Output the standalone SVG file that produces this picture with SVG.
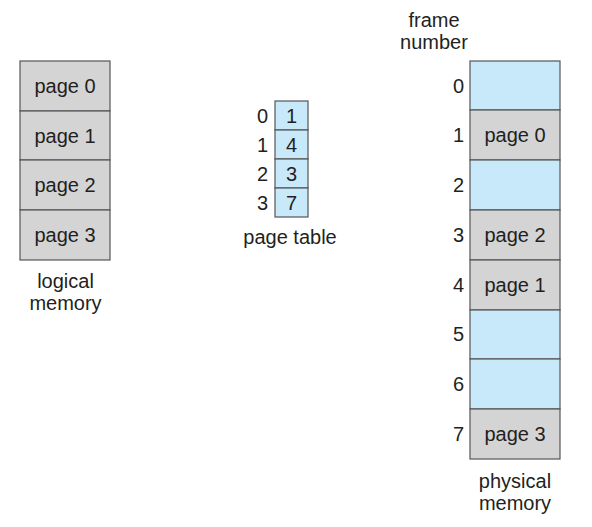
<svg xmlns="http://www.w3.org/2000/svg" width="592" height="527" viewBox="0 0 592 527">
<style>
text{font-family:"Liberation Sans",Arial,sans-serif;font-size:20px;fill:#231f20}
.c{text-anchor:middle}
.r{text-anchor:end}
.g{fill:#d4d4d4;stroke:#555;stroke-width:1.2}
.b{fill:#c8e9fa;stroke:#555;stroke-width:1.2}
</style>
<rect width="592" height="527" fill="#fff"/>
<g id="logical-memory">
<rect class="g" x="20" y="61" width="90" height="50"/>
<rect class="g" x="20" y="111" width="90" height="49"/>
<rect class="g" x="20" y="160" width="90" height="50"/>
<rect class="g" x="20" y="210" width="90" height="50"/>
<text class="c" x="65" y="93">page 0</text>
<text class="c" x="65" y="142.5">page 1</text>
<text class="c" x="65" y="192">page 2</text>
<text class="c" x="65" y="242">page 3</text>
<text class="c" x="65.5" y="288">logical</text>
<text class="c" x="65.5" y="310">memory</text>
</g>
<g id="page-table">
<rect class="b" x="275" y="101" width="33" height="29"/>
<rect class="b" x="275" y="130" width="33" height="29"/>
<rect class="b" x="275" y="159" width="33" height="29"/>
<rect class="b" x="275" y="188" width="33" height="29"/>
<text class="c" x="291.5" y="122.5">1</text>
<text class="c" x="291.5" y="151.5">4</text>
<text class="c" x="291.5" y="180.5">3</text>
<text class="c" x="291.5" y="209.5">7</text>
<text class="r" x="268" y="122.5">0</text>
<text class="r" x="268" y="151.5">1</text>
<text class="r" x="268" y="180.5">2</text>
<text class="r" x="268" y="209.5">3</text>
<text class="c" x="290" y="244">page table</text>
</g>
<g id="physical-memory">
<rect class="b" x="470" y="61" width="90" height="49"/>
<rect class="g" x="470" y="110" width="90" height="50"/>
<rect class="b" x="470" y="160" width="90" height="50"/>
<rect class="g" x="470" y="210" width="90" height="50"/>
<rect class="g" x="470" y="260" width="90" height="50"/>
<rect class="b" x="470" y="310" width="90" height="49"/>
<rect class="b" x="470" y="359" width="90" height="50"/>
<rect class="g" x="470" y="409" width="90" height="50"/>
<text class="c" x="515" y="142">page 0</text>
<text class="c" x="515" y="242">page 2</text>
<text class="c" x="515" y="292">page 1</text>
<text class="c" x="515" y="441">page 3</text>
<text class="r" x="464" y="93">0</text>
<text class="r" x="464" y="142">1</text>
<text class="r" x="464" y="192">2</text>
<text class="r" x="464" y="242">3</text>
<text class="r" x="464" y="292">4</text>
<text class="r" x="464" y="341">5</text>
<text class="r" x="464" y="391">6</text>
<text class="r" x="464" y="441">7</text>
<text class="c" x="434" y="27">frame</text>
<text class="c" x="434" y="49">number</text>
<text class="c" x="515" y="488">physical</text>
<text class="c" x="515" y="510">memory</text>
</g>
<g id="connectors"></g>
</svg>
